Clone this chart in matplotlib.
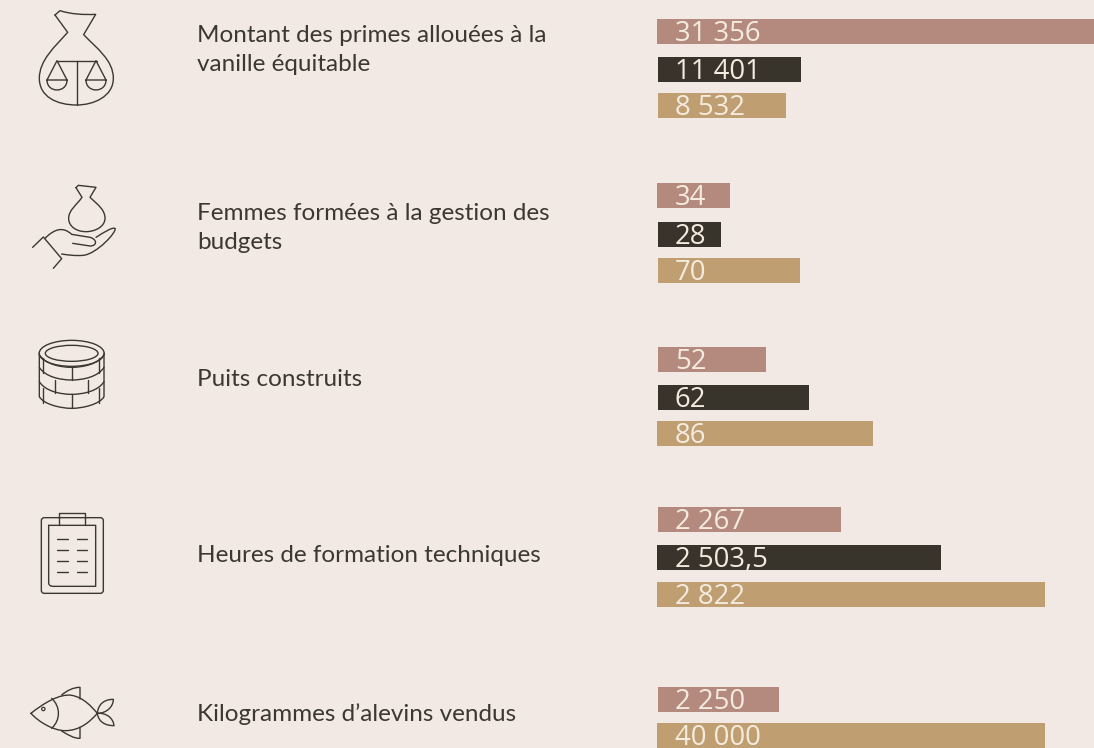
import matplotlib
matplotlib.use('Agg')
import matplotlib.pyplot as plt
from matplotlib.path import Path
from matplotlib.patches import PathPatch, Circle, Ellipse, FancyBboxPatch

categories = [
    ['Montant des primes allouées à la', 'vanille équitable'],
    ['Femmes formées à la gestion des', 'budgets'],
    ['Puits construits'],
    ['Heures de formation techniques'],
    ['Kilogrammes d’alevins vendus'],
]
value_labels = [
    ['31 356', '11 401', '8 532'],
    ['34', '28', '70'],
    ['52', '62', '86'],
    ['2 267', '2 503,5', '2 822'],
    ['2 250', '40 000'],
]
# bars are not on a common scale in the original, so lengths are read separately
bar_lengths = [
    [440, 142.5, 128],
    [73, 63, 142],
    [108, 151, 216],
    [183, 284, 388],
    [121, 388],
]

bar_colors = [
    ['#b58a7e', '#38342c', '#bf9e72'],
    ['#b58a7e', '#38342c', '#bf9e72'],
    ['#b58a7e', '#38342c', '#bf9e72'],
    ['#b58a7e', '#38342c', '#bf9e72'],
    ['#b58a7e', '#bf9e72'],
]
bar_tops = [[19, 57, 93], [183, 222, 258], [347, 385, 421], [507, 545, 582], [687, 723]]
bar_lefts = [[657, 658, 658], [657, 658, 658], [658, 658, 657], [658, 657, 657], [658, 657]]
label_lines = [[42, 71], [220, 249], [386], [562], [721]]

bg = '#f2e9e4'
ink = '#3b3731'

fig = plt.figure(figsize=(10.94, 7.48), dpi=100, facecolor=bg)
ax = fig.add_axes([0, 0, 1, 1])
ax.set_xlim(0, 1094)
ax.set_ylim(748, 0)
ax.axis('off')

for i, lengths in enumerate(bar_lengths):
    for j, length in enumerate(lengths):
        ax.barh(bar_tops[i][j] + 12.5, length, height=25, left=bar_lefts[i][j],
                color=bar_colors[i][j], linewidth=0)
        ax.text(675, bar_tops[i][j] + 22, value_labels[i][j], color='#f4ebdf',
                fontsize=19.8, family='Open Sans', va='baseline')
    for line, y in zip(categories[i], label_lines[i]):
        ax.text(197, y, line, color=ink, fontsize=17.5, family='Lato', va='baseline')


# icons were measured on 3x crops, so coordinates get divided by 3
def stroke(*segments):
    verts, codes = [], []
    for seg in segments:
        if seg[0] == 'M':
            verts.append(seg[1])
            codes.append(Path.MOVETO)
        elif seg[0] == 'L':
            verts.append(seg[1])
            codes.append(Path.LINETO)
        else:
            verts.extend(seg[1:4])
            codes.extend([Path.CURVE4] * 3)
    verts = [(x / 3, y / 3) for x, y in verts]
    ax.add_patch(PathPatch(Path(verts, codes), fill=False, edgecolor=ink, lw=1.0,
                           joinstyle='round', capstyle='round'))


# money bag with scales
stroke(('M', (165, 45)), ('L', (180, 32)), ('C', (210, 42), (250, 45), (287, 43)),
       ('L', (251, 104)), ('C', (290, 145), (340, 180), (340, 235)),
       ('C', (340, 290), (280, 315), (230, 315)), ('C', (170, 315), (118, 290), (118, 235)),
       ('C', (118, 180), (165, 140), (203, 97)), ('L', (165, 45)))
stroke(('M', (170, 182)), ('L', (290, 182)))
stroke(('M', (230, 182)), ('L', (230, 315)))
for cx in [171, 288]:
    stroke(('M', (cx - 30, 240)), ('L', (cx, 182)), ('L', (cx + 30, 240)), ('L', (cx - 30, 240)),
           ('C', (cx - 30, 280), (cx + 30, 280), (cx + 30, 240)))

# hand holding a bag
stroke(('M', (228, 563)), ('L', (235, 556)), ('L', (288, 562)), ('L', (270, 592)),
       ('C', (295, 615), (315, 630), (315, 655)), ('C', (315, 680), (285, 695), (258, 695)),
       ('C', (230, 695), (206, 680), (206, 655)), ('C', (206, 630), (230, 615), (246, 592)),
       ('L', (228, 563)))
stroke(('M', (98, 742)), ('L', (130, 711)), ('L', (185, 776)), ('L', (160, 805)))
stroke(('M', (135, 715)), ('C', (165, 685), (190, 680), (215, 703)), ('L', (270, 712)),
       ('C', (292, 718), (292, 738), (270, 738)), ('L', (218, 730)))
stroke(('M', (288, 712)), ('C', (315, 695), (335, 682), (345, 685)),
       ('C', (352, 695), (290, 762), (250, 766)), ('C', (225, 768), (205, 765), (185, 762)))

# well
ax.add_patch(Ellipse((215 / 3, 1060 / 3), 195 / 3, 78 / 3, fill=False, edgecolor=ink, lw=1.0))
ax.add_patch(Ellipse((215 / 3, 1060 / 3), 158 / 3, 48 / 3, fill=False, edgecolor=ink, lw=1.0))
stroke(('M', (118, 1060)), ('L', (118, 1190)), ('C', (130, 1212), (180, 1225), (215, 1225)),
       ('C', (250, 1225), (300, 1212), (312, 1190)), ('L', (312, 1060)))
for y_mid in [1102, 1140, 1183]:
    stroke(('M', (118, y_mid - 38)), ('C', (135, y_mid - 10), (180, y_mid), (215, y_mid)),
           ('C', (250, y_mid), (295, y_mid - 10), (312, y_mid - 38)))
for x, y0, y1 in [(215, 1102, 1140), (130, 1075, 1120), (298, 1075, 1120), (165, 1140, 1178),
                  (265, 1140, 1178), (215, 1183, 1225), (130, 1165, 1210), (298, 1165, 1210)]:
    stroke(('M', (x, y0)), ('L', (x, y1)))

# clipboard
ax.add_patch(FancyBboxPatch((124 / 3 + 3, 1553 / 3 + 3), 186 / 3 - 6, 227 / 3 - 6,
                            boxstyle='round,pad=3', fill=False, edgecolor=ink, lw=1.0))
stroke(('M', (178, 1553)), ('L', (178, 1540)), ('L', (256, 1540)), ('L', (256, 1553)))
stroke(('M', (146, 1576)), ('L', (287, 1576)), ('L', (287, 1759)), ('L', (160, 1759)),
       ('C', (150, 1759), (146, 1755), (146, 1747)), ('L', (146, 1576)))
stroke(('M', (178, 1553)), ('L', (178, 1576)))
stroke(('M', (256, 1553)), ('L', (256, 1576)))
for y in [1617, 1650, 1683, 1717]:
    stroke(('M', (172, y)), ('L', (204, y)))
    stroke(('M', (230, y)), ('L', (262, y)))

# fish
stroke(('M', (93, 2140)), ('C', (130, 2110), (180, 2080), (215, 2086)),
       ('C', (250, 2092), (275, 2120), (292, 2140)), ('C', (270, 2165), (240, 2192), (195, 2192)),
       ('C', (160, 2192), (115, 2165), (93, 2140)))
stroke(('M', (155, 2095)), ('C', (182, 2120), (182, 2160), (155, 2185)))
ax.add_patch(Circle((130 / 3, 2127 / 3), 5 / 3, fill=False, edgecolor=ink, lw=0.9))
stroke(('M', (185, 2085)), ('C', (200, 2072), (220, 2062), (240, 2062)), ('L', (240, 2097)))
stroke(('M', (185, 2193)), ('C', (205, 2205), (220, 2215), (240, 2215)), ('L', (240, 2182)))
stroke(('M', (292, 2140)), ('C', (295, 2110), (315, 2098), (340, 2098)),
       ('C', (340, 2120), (320, 2140), (292, 2140)))
stroke(('M', (292, 2140)), ('C', (320, 2138), (340, 2155), (342, 2177)),
       ('C', (315, 2177), (295, 2165), (292, 2140)))

fig.savefig('out.png', dpi=100, facecolor=bg)
